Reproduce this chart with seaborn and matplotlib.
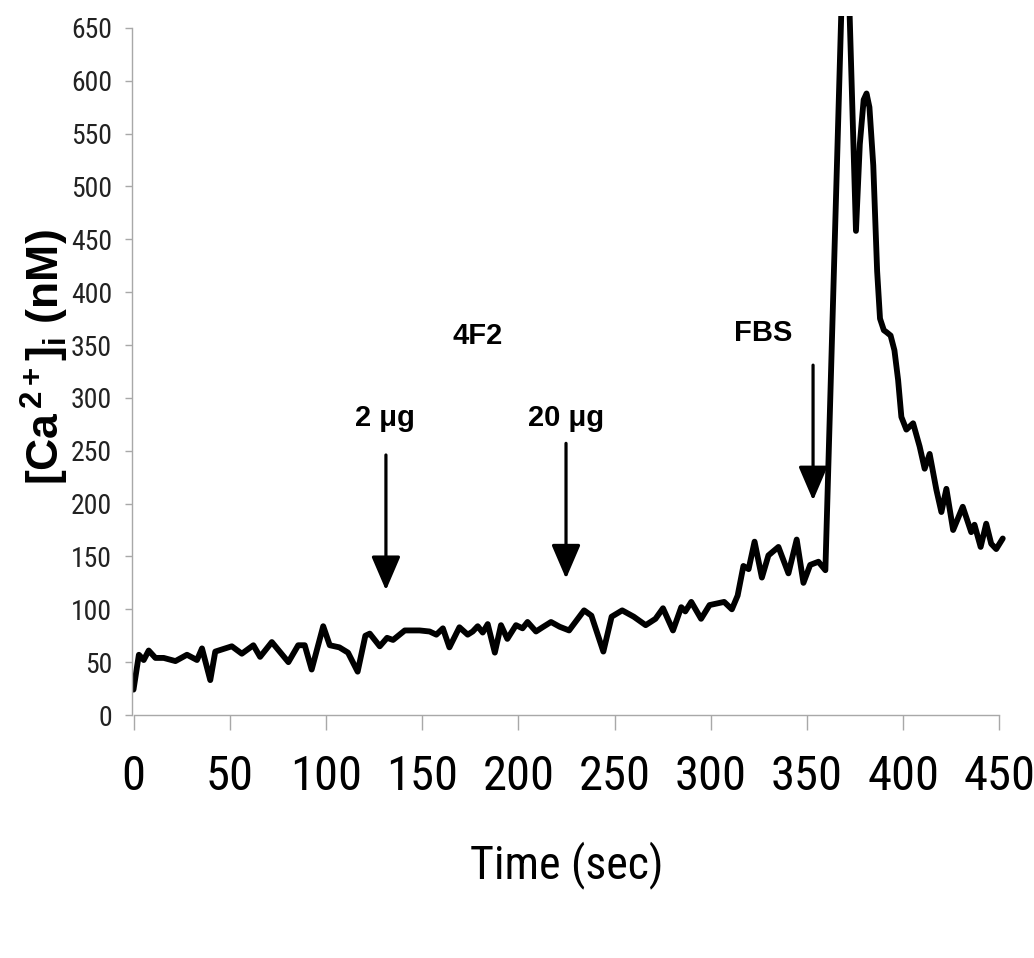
import matplotlib
matplotlib.use("Agg")
import matplotlib.pyplot as plt
from matplotlib import font_manager
import seaborn as sns
import pandas as pd

# Intracellular calcium trace (time in s, [Ca2+]i in nM)
time_s = [0, 2.8, 5.3, 7.9, 11.4, 15.7, 21.8, 27.8, 33, 35.6, 39.9, 42.5, 51.1, 56.3,
          62.3, 65.8, 71.9, 80.5, 85.6, 89, 92.6, 98.6, 102, 107, 111.5, 116.5, 120.5,
          122.8, 128, 131.8, 134.9, 141, 148.7, 153.9, 157.4, 160.8, 164.2, 169.4, 173.7,
          176.3, 178.9, 181.5, 184.1, 187.8, 191, 194.3, 198.8, 202.2, 204.8, 209.2,
          212.6, 217, 221.5, 226.4, 234.2, 238, 244.2, 248.5, 254, 260, 266.2, 271.3,
          275.2, 280.4, 284.7, 286.8, 289.9, 295, 299.4, 307, 311, 314, 317, 319.7, 322.8,
          326.6, 330, 335.2, 340.4, 344.7, 348.2, 351.7, 356, 359.6, 370.0, 375.5, 377.5,
          379.5, 381, 382.5, 384.5, 386.5, 388, 390, 391.5, 393.5, 395.5, 397.4, 399.1,
          401.7, 405.2, 408.6, 411.2, 413.8, 417.3, 419.9, 422.5, 426, 431, 435.4, 437.1,
          440.3, 443.2, 445.8, 448.4, 451.8]
ca_nM = [24, 57, 52, 61, 54, 54, 51, 57, 52, 63, 33, 60, 65, 58,
         66, 55, 69, 50, 66, 66, 43, 84, 66, 64, 59, 41, 75,
         77, 65, 73, 71, 80, 80, 79, 76, 82, 64, 83, 76,
         79, 84, 78, 86, 59, 85, 72, 85, 82, 88, 79,
         83, 88, 83.5, 80, 99, 94, 60, 93, 99, 93, 85, 91,
         101, 80, 102, 98, 107, 91, 104, 107, 100, 113, 141, 138, 164,
         130, 151, 159, 134, 166, 125, 142, 145, 137, 800, 458, 540,
         582, 588, 575, 520, 420, 375, 364, 362, 359, 345, 317, 282,
         270, 276, 254, 233, 247, 213, 192, 214, 175, 197, 173, 180,
         159, 181, 162, 157, 167]

x_ticks = [0, 50, 100, 150, 200, 250, 300, 350, 400, 450]
y_ticks = [0, 50, 100, 150, 200, 250, 300, 350, 400, 450, 500, 550, 600, 650]

# Additions: label, time of addition, arrow tail and tip levels (nM)
add_labels = ["2 μg", "20 μg", "FBS"]
add_times = [131.2, 224.8, 353.2]
arrow_tail = [246, 257, 331]
arrow_tip = [118, 129, 203]
label_x = [130.7, 224.8, 327.2]
label_y = [281, 281, 361]
antibody = "4F2"
antibody_pos = (179, 359)

df = pd.DataFrame({"time": time_s, "ca": ca_nM})

sns.set_theme(style="white")

available = {f.name for f in font_manager.fontManager.ttflist}


def pick(*names):
    for n in names:
        if n in available:
            return n
    return "DejaVu Sans"


narrow = pick("Liberation Sans Narrow", "Roboto Condensed", "Arial Narrow", "Liberation Sans")
boldfam = pick("Liberation Sans", "Arimo", "DejaVu Sans")

plt.rcParams["font.family"] = [boldfam, "DejaVu Sans"]
plt.rcParams["mathtext.fontset"] = "custom"
plt.rcParams["mathtext.rm"] = f"{boldfam}:bold"
plt.rcParams["mathtext.it"] = f"{boldfam}:bold"
plt.rcParams["mathtext.bf"] = f"{boldfam}:bold"

W, H = 1034, 958
fig = plt.figure(figsize=(W / 100, H / 100), dpi=100)
fig.patch.set_facecolor("white")

# axes box in pixels
x0_px, x_per = 133.5, 1.924
y0_px, y_per = 715.0, 1.057
xmin, xmax = -1.0, 455.0
ymin, ymax = 0.0, 661.0
left = x0_px + xmin * x_per
right = x0_px + xmax * x_per
top = y0_px - ymax * y_per
ax = fig.add_axes([left / W, (H - y0_px) / H, (right - left) / W, (y0_px - top) / H])
ax.set_facecolor("white")

sns.lineplot(data=df, x="time", y="ca", ax=ax, color="black", linewidth=4.2,
             estimator=None, sort=False)
for ln in ax.get_lines():
    ln.set_solid_joinstyle("round")
    ln.set_solid_capstyle("round")

ax.set_xlim(xmin, xmax)
ax.set_ylim(ymin, ymax)
ax.set_xticks(x_ticks)
ax.set_yticks(y_ticks)
ax.set_xticklabels([str(v) for v in x_ticks])
ax.set_yticklabels([str(v) for v in y_ticks])

for side in ("top", "right"):
    ax.spines[side].set_visible(False)
for side in ("left", "bottom"):
    ax.spines[side].set_color("#a8a8a8")
    ax.spines[side].set_linewidth(1.0)
ax.spines["left"].set_bounds(0, 650)
ax.spines["bottom"].set_bounds(0, 450)

ax.tick_params(axis="x", direction="out", length=11, width=1, color="#a8a8a8",
               pad=17, labelsize=35, labelcolor="black", bottom=True)
ax.tick_params(axis="y", direction="out", length=5, width=1, color="#a8a8a8",
               pad=9, labelsize=20, labelcolor="#222222", left=True)
for lab in ax.get_xticklabels() + ax.get_yticklabels():
    lab.set_family([narrow, "DejaVu Sans"])
    lab.set_stretch("condensed")

ax.set_xlabel("Time (sec)", fontsize=33, family=[narrow, "DejaVu Sans"],
              fontstretch="condensed", color="black", va="center")
ax.xaxis.set_label_coords((567 - left) / (right - left), (y0_px - 865) / (y0_px - top))

ax.set_ylabel(r"[Ca$^{\,2+}$]$_{\rm i}$ (nM)", fontsize=32, fontweight="bold",
              color="black", va="center")
ax.yaxis.set_label_coords((45 - left) / (right - left), (y0_px - 357) / (y0_px - top))

for lab, tx, ty, t, tail, tip in zip(add_labels, label_x, label_y, add_times,
                                      arrow_tail, arrow_tip):
    ax.text(tx, ty, lab, ha="center", va="center", fontsize=21, fontweight="bold",
            color="black")
    ax.annotate("", xy=(t, tip), xytext=(t, tail),
                arrowprops=dict(arrowstyle="-|>,head_length=1.05,head_width=0.45",
                                mutation_scale=20, lw=2.3, color="black",
                                shrinkA=0, shrinkB=0))

ax.text(antibody_pos[0], antibody_pos[1], antibody, ha="center", va="center",
        fontsize=21, fontweight="bold", color="black")

fig.savefig("out.png", dpi=100, facecolor="white")
